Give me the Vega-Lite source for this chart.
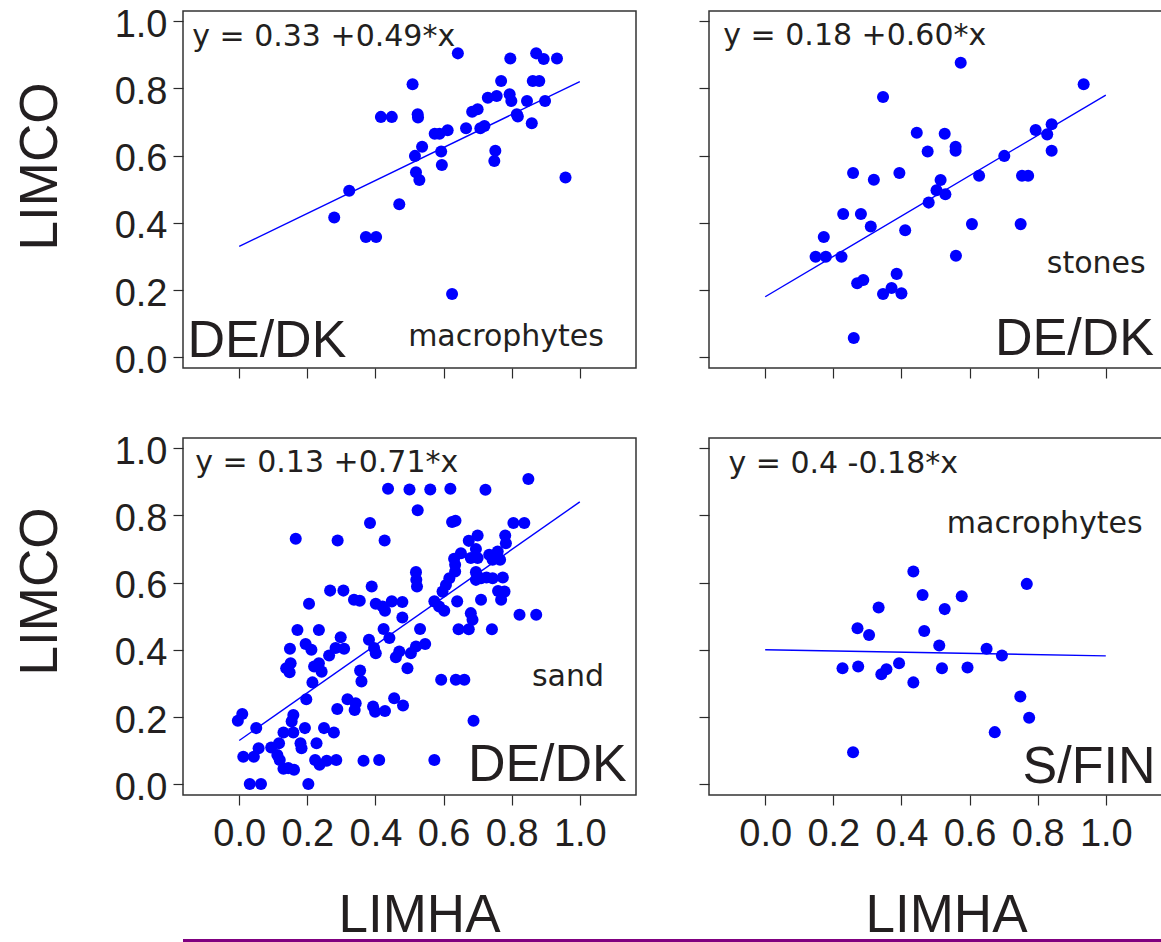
{
  "$schema": "https://vega.github.io/schema/vega-lite/v6.json",
  "background": "white",
  "padding": {"left": 13, "top": 5, "right": 0, "bottom": 0},
  "config": {
    "view": {"stroke": "#333333", "strokeWidth": 1.5},
    "axis": {
      "domain": false,
      "grid": false,
      "ticks": true,
      "tickSize": 10,
      "tickColor": "#2b2b2b",
      "tickWidth": 1.2,
      "labelFont": "Liberation Sans",
      "labelFontSize": 38,
      "labelColor": "#231f20",
      "titleFont": "Liberation Sans",
      "titleFontSize": 53,
      "titleFontWeight": "normal",
      "titleColor": "#231f20",
      "labelFlush": false,
      "labelOverlap": false,
      "labelBound": false
    }
  },
  "datasets": {
    "de_dk_macrophytes": [
      {"LIMHA": 0.642, "LIMCO": 0.904}, {"LIMHA": 0.796, "LIMCO": 0.889}, {"LIMHA": 0.872, "LIMCO": 0.904},
      {"LIMHA": 0.894, "LIMCO": 0.887}, {"LIMHA": 0.933, "LIMCO": 0.889}, {"LIMHA": 0.509, "LIMCO": 0.812},
      {"LIMHA": 0.769, "LIMCO": 0.822}, {"LIMHA": 0.862, "LIMCO": 0.822}, {"LIMHA": 0.881, "LIMCO": 0.822},
      {"LIMHA": 0.730, "LIMCO": 0.772}, {"LIMHA": 0.756, "LIMCO": 0.777}, {"LIMHA": 0.794, "LIMCO": 0.782},
      {"LIMHA": 0.799, "LIMCO": 0.762}, {"LIMHA": 0.845, "LIMCO": 0.762}, {"LIMHA": 0.898, "LIMCO": 0.762},
      {"LIMHA": 0.416, "LIMCO": 0.715}, {"LIMHA": 0.448, "LIMCO": 0.715}, {"LIMHA": 0.524, "LIMCO": 0.723},
      {"LIMHA": 0.525, "LIMCO": 0.713}, {"LIMHA": 0.684, "LIMCO": 0.730}, {"LIMHA": 0.700, "LIMCO": 0.738},
      {"LIMHA": 0.815, "LIMCO": 0.723}, {"LIMHA": 0.818, "LIMCO": 0.716}, {"LIMHA": 0.859, "LIMCO": 0.696},
      {"LIMHA": 0.574, "LIMCO": 0.665}, {"LIMHA": 0.588, "LIMCO": 0.665}, {"LIMHA": 0.612, "LIMCO": 0.675},
      {"LIMHA": 0.666, "LIMCO": 0.681}, {"LIMHA": 0.708, "LIMCO": 0.681}, {"LIMHA": 0.720, "LIMCO": 0.688},
      {"LIMHA": 0.537, "LIMCO": 0.626}, {"LIMHA": 0.516, "LIMCO": 0.599}, {"LIMHA": 0.593, "LIMCO": 0.612},
      {"LIMHA": 0.752, "LIMCO": 0.614}, {"LIMHA": 0.749, "LIMCO": 0.584}, {"LIMHA": 0.595, "LIMCO": 0.572},
      {"LIMHA": 0.519, "LIMCO": 0.550}, {"LIMHA": 0.529, "LIMCO": 0.527}, {"LIMHA": 0.958, "LIMCO": 0.535},
      {"LIMHA": 0.323, "LIMCO": 0.495}, {"LIMHA": 0.470, "LIMCO": 0.455}, {"LIMHA": 0.279, "LIMCO": 0.416},
      {"LIMHA": 0.372, "LIMCO": 0.358}, {"LIMHA": 0.402, "LIMCO": 0.358}, {"LIMHA": 0.625, "LIMCO": 0.188}
    ],
    "de_dk_stones": [
      {"LIMHA": 0.574, "LIMCO": 0.876}, {"LIMHA": 0.935, "LIMCO": 0.812}, {"LIMHA": 0.346, "LIMCO": 0.774},
      {"LIMHA": 0.445, "LIMCO": 0.668}, {"LIMHA": 0.527, "LIMCO": 0.665}, {"LIMHA": 0.559, "LIMCO": 0.626},
      {"LIMHA": 0.559, "LIMCO": 0.614}, {"LIMHA": 0.477, "LIMCO": 0.612}, {"LIMHA": 0.794, "LIMCO": 0.676},
      {"LIMHA": 0.841, "LIMCO": 0.693}, {"LIMHA": 0.828, "LIMCO": 0.663}, {"LIMHA": 0.841, "LIMCO": 0.614},
      {"LIMHA": 0.702, "LIMCO": 0.599}, {"LIMHA": 0.258, "LIMCO": 0.548}, {"LIMHA": 0.319, "LIMCO": 0.528},
      {"LIMHA": 0.394, "LIMCO": 0.548}, {"LIMHA": 0.628, "LIMCO": 0.540}, {"LIMHA": 0.754, "LIMCO": 0.540},
      {"LIMHA": 0.772, "LIMCO": 0.540}, {"LIMHA": 0.515, "LIMCO": 0.527}, {"LIMHA": 0.503, "LIMCO": 0.497},
      {"LIMHA": 0.529, "LIMCO": 0.485}, {"LIMHA": 0.480, "LIMCO": 0.460}, {"LIMHA": 0.229, "LIMCO": 0.426},
      {"LIMHA": 0.281, "LIMCO": 0.426}, {"LIMHA": 0.310, "LIMCO": 0.389}, {"LIMHA": 0.411, "LIMCO": 0.378},
      {"LIMHA": 0.607, "LIMCO": 0.396}, {"LIMHA": 0.750, "LIMCO": 0.396}, {"LIMHA": 0.172, "LIMCO": 0.358},
      {"LIMHA": 0.148, "LIMCO": 0.299}, {"LIMHA": 0.178, "LIMCO": 0.299}, {"LIMHA": 0.224, "LIMCO": 0.299},
      {"LIMHA": 0.560, "LIMCO": 0.302}, {"LIMHA": 0.386, "LIMCO": 0.248}, {"LIMHA": 0.270, "LIMCO": 0.220},
      {"LIMHA": 0.288, "LIMCO": 0.230}, {"LIMHA": 0.346, "LIMCO": 0.188}, {"LIMHA": 0.371, "LIMCO": 0.206},
      {"LIMHA": 0.400, "LIMCO": 0.190}, {"LIMHA": 0.260, "LIMCO": 0.057}
    ],
    "de_dk_sand": [
      {"LIMHA": 0.849, "LIMCO": 0.908}, {"LIMHA": 0.437, "LIMCO": 0.879}, {"LIMHA": 0.500, "LIMCO": 0.877},
      {"LIMHA": 0.561, "LIMCO": 0.877}, {"LIMHA": 0.620, "LIMCO": 0.879}, {"LIMHA": 0.723, "LIMCO": 0.876},
      {"LIMHA": 0.524, "LIMCO": 0.815}, {"LIMHA": 0.384, "LIMCO": 0.777}, {"LIMHA": 0.625, "LIMCO": 0.780},
      {"LIMHA": 0.635, "LIMCO": 0.784}, {"LIMHA": 0.805, "LIMCO": 0.777}, {"LIMHA": 0.837, "LIMCO": 0.777},
      {"LIMHA": 0.166, "LIMCO": 0.730}, {"LIMHA": 0.289, "LIMCO": 0.725}, {"LIMHA": 0.427, "LIMCO": 0.725},
      {"LIMHA": 0.674, "LIMCO": 0.724}, {"LIMHA": 0.700, "LIMCO": 0.740}, {"LIMHA": 0.781, "LIMCO": 0.740},
      {"LIMHA": 0.783, "LIMCO": 0.717}, {"LIMHA": 0.695, "LIMCO": 0.700}, {"LIMHA": 0.651, "LIMCO": 0.687},
      {"LIMHA": 0.631, "LIMCO": 0.671}, {"LIMHA": 0.680, "LIMCO": 0.673}, {"LIMHA": 0.700, "LIMCO": 0.673},
      {"LIMHA": 0.734, "LIMCO": 0.683}, {"LIMHA": 0.759, "LIMCO": 0.692}, {"LIMHA": 0.766, "LIMCO": 0.668},
      {"LIMHA": 0.744, "LIMCO": 0.668}, {"LIMHA": 0.634, "LIMCO": 0.653}, {"LIMHA": 0.519, "LIMCO": 0.631},
      {"LIMHA": 0.520, "LIMCO": 0.608}, {"LIMHA": 0.522, "LIMCO": 0.588}, {"LIMHA": 0.634, "LIMCO": 0.633},
      {"LIMHA": 0.617, "LIMCO": 0.613}, {"LIMHA": 0.607, "LIMCO": 0.593}, {"LIMHA": 0.695, "LIMCO": 0.631},
      {"LIMHA": 0.710, "LIMCO": 0.613}, {"LIMHA": 0.726, "LIMCO": 0.615}, {"LIMHA": 0.744, "LIMCO": 0.613},
      {"LIMHA": 0.774, "LIMCO": 0.615}, {"LIMHA": 0.695, "LIMCO": 0.608}, {"LIMHA": 0.389, "LIMCO": 0.588},
      {"LIMHA": 0.267, "LIMCO": 0.576}, {"LIMHA": 0.306, "LIMCO": 0.576}, {"LIMHA": 0.597, "LIMCO": 0.573},
      {"LIMHA": 0.760, "LIMCO": 0.575}, {"LIMHA": 0.779, "LIMCO": 0.573}, {"LIMHA": 0.769, "LIMCO": 0.549},
      {"LIMHA": 0.337, "LIMCO": 0.549}, {"LIMHA": 0.354, "LIMCO": 0.546}, {"LIMHA": 0.205, "LIMCO": 0.537},
      {"LIMHA": 0.401, "LIMCO": 0.537}, {"LIMHA": 0.421, "LIMCO": 0.529}, {"LIMHA": 0.448, "LIMCO": 0.544},
      {"LIMHA": 0.479, "LIMCO": 0.542}, {"LIMHA": 0.428, "LIMCO": 0.516}, {"LIMHA": 0.573, "LIMCO": 0.544},
      {"LIMHA": 0.587, "LIMCO": 0.529}, {"LIMHA": 0.602, "LIMCO": 0.516}, {"LIMHA": 0.640, "LIMCO": 0.544},
      {"LIMHA": 0.710, "LIMCO": 0.549}, {"LIMHA": 0.823, "LIMCO": 0.504}, {"LIMHA": 0.872, "LIMCO": 0.504},
      {"LIMHA": 0.479, "LIMCO": 0.496}, {"LIMHA": 0.680, "LIMCO": 0.509}, {"LIMHA": 0.685, "LIMCO": 0.489},
      {"LIMHA": 0.644, "LIMCO": 0.461}, {"LIMHA": 0.674, "LIMCO": 0.461}, {"LIMHA": 0.742, "LIMCO": 0.461},
      {"LIMHA": 0.171, "LIMCO": 0.459}, {"LIMHA": 0.234, "LIMCO": 0.459}, {"LIMHA": 0.424, "LIMCO": 0.462},
      {"LIMHA": 0.441, "LIMCO": 0.435}, {"LIMHA": 0.531, "LIMCO": 0.462}, {"LIMHA": 0.298, "LIMCO": 0.437},
      {"LIMHA": 0.381, "LIMCO": 0.430}, {"LIMHA": 0.195, "LIMCO": 0.417}, {"LIMHA": 0.212, "LIMCO": 0.400},
      {"LIMHA": 0.149, "LIMCO": 0.403}, {"LIMHA": 0.396, "LIMCO": 0.405}, {"LIMHA": 0.401, "LIMCO": 0.390},
      {"LIMHA": 0.283, "LIMCO": 0.405}, {"LIMHA": 0.308, "LIMCO": 0.403}, {"LIMHA": 0.264, "LIMCO": 0.383},
      {"LIMHA": 0.470, "LIMCO": 0.395}, {"LIMHA": 0.460, "LIMCO": 0.378}, {"LIMHA": 0.519, "LIMCO": 0.410},
      {"LIMHA": 0.546, "LIMCO": 0.417}, {"LIMHA": 0.504, "LIMCO": 0.390}, {"LIMHA": 0.151, "LIMCO": 0.360},
      {"LIMHA": 0.138, "LIMCO": 0.345}, {"LIMHA": 0.148, "LIMCO": 0.333}, {"LIMHA": 0.220, "LIMCO": 0.350},
      {"LIMHA": 0.234, "LIMCO": 0.360}, {"LIMHA": 0.242, "LIMCO": 0.335}, {"LIMHA": 0.494, "LIMCO": 0.345},
      {"LIMHA": 0.355, "LIMCO": 0.338}, {"LIMHA": 0.359, "LIMCO": 0.306}, {"LIMHA": 0.215, "LIMCO": 0.303},
      {"LIMHA": 0.593, "LIMCO": 0.311}, {"LIMHA": 0.636, "LIMCO": 0.311}, {"LIMHA": 0.661, "LIMCO": 0.311},
      {"LIMHA": 0.197, "LIMCO": 0.253}, {"LIMHA": 0.318, "LIMCO": 0.253}, {"LIMHA": 0.342, "LIMCO": 0.241},
      {"LIMHA": 0.288, "LIMCO": 0.224}, {"LIMHA": 0.339, "LIMCO": 0.221}, {"LIMHA": 0.393, "LIMCO": 0.231},
      {"LIMHA": 0.399, "LIMCO": 0.216}, {"LIMHA": 0.428, "LIMCO": 0.218}, {"LIMHA": 0.455, "LIMCO": 0.256},
      {"LIMHA": 0.481, "LIMCO": 0.234}, {"LIMHA": 0.009, "LIMCO": 0.209}, {"LIMHA": -0.004, "LIMCO": 0.189},
      {"LIMHA": 0.688, "LIMCO": 0.189}, {"LIMHA": 0.159, "LIMCO": 0.206}, {"LIMHA": 0.154, "LIMCO": 0.187},
      {"LIMHA": 0.050, "LIMCO": 0.167}, {"LIMHA": 0.193, "LIMCO": 0.167}, {"LIMHA": 0.249, "LIMCO": 0.167},
      {"LIMHA": 0.278, "LIMCO": 0.154}, {"LIMHA": 0.130, "LIMCO": 0.154}, {"LIMHA": 0.159, "LIMCO": 0.154},
      {"LIMHA": 0.057, "LIMCO": 0.107}, {"LIMHA": 0.094, "LIMCO": 0.109}, {"LIMHA": 0.117, "LIMCO": 0.122},
      {"LIMHA": 0.180, "LIMCO": 0.122}, {"LIMHA": 0.183, "LIMCO": 0.107}, {"LIMHA": 0.227, "LIMCO": 0.122},
      {"LIMHA": 0.012, "LIMCO": 0.082}, {"LIMHA": 0.043, "LIMCO": 0.082}, {"LIMHA": 0.112, "LIMCO": 0.087},
      {"LIMHA": 0.119, "LIMCO": 0.072}, {"LIMHA": 0.130, "LIMCO": 0.046}, {"LIMHA": 0.144, "LIMCO": 0.048},
      {"LIMHA": 0.161, "LIMCO": 0.043}, {"LIMHA": 0.223, "LIMCO": 0.072}, {"LIMHA": 0.236, "LIMCO": 0.058},
      {"LIMHA": 0.257, "LIMCO": 0.070}, {"LIMHA": 0.285, "LIMCO": 0.072}, {"LIMHA": 0.365, "LIMCO": 0.070},
      {"LIMHA": 0.411, "LIMCO": 0.072}, {"LIMHA": 0.573, "LIMCO": 0.072}, {"LIMHA": 0.031, "LIMCO": 0.001},
      {"LIMHA": 0.064, "LIMCO": 0.001}, {"LIMHA": 0.203, "LIMCO": 0.001}
    ],
    "s_fin_macrophytes": [
      {"LIMHA": 0.435, "LIMCO": 0.633}, {"LIMHA": 0.768, "LIMCO": 0.596}, {"LIMHA": 0.462, "LIMCO": 0.563},
      {"LIMHA": 0.577, "LIMCO": 0.559}, {"LIMHA": 0.333, "LIMCO": 0.526}, {"LIMHA": 0.527, "LIMCO": 0.521},
      {"LIMHA": 0.271, "LIMCO": 0.464}, {"LIMHA": 0.305, "LIMCO": 0.444}, {"LIMHA": 0.467, "LIMCO": 0.456},
      {"LIMHA": 0.511, "LIMCO": 0.413}, {"LIMHA": 0.650, "LIMCO": 0.403}, {"LIMHA": 0.695, "LIMCO": 0.383},
      {"LIMHA": 0.227, "LIMCO": 0.345}, {"LIMHA": 0.273, "LIMCO": 0.350}, {"LIMHA": 0.393, "LIMCO": 0.360},
      {"LIMHA": 0.356, "LIMCO": 0.342}, {"LIMHA": 0.341, "LIMCO": 0.327}, {"LIMHA": 0.519, "LIMCO": 0.345},
      {"LIMHA": 0.594, "LIMCO": 0.347}, {"LIMHA": 0.435, "LIMCO": 0.303}, {"LIMHA": 0.749, "LIMCO": 0.261},
      {"LIMHA": 0.775, "LIMCO": 0.198}, {"LIMHA": 0.674, "LIMCO": 0.155}, {"LIMHA": 0.258, "LIMCO": 0.095}
    ],
    "fit_de_dk_macrophytes": [{"LIMHA": 0, "LIMCO": 0.33}, {"LIMHA": 1, "LIMCO": 0.82}],
    "fit_de_dk_stones": [{"LIMHA": 0, "LIMCO": 0.18}, {"LIMHA": 1, "LIMCO": 0.78}],
    "fit_de_dk_sand": [{"LIMHA": 0, "LIMCO": 0.13}, {"LIMHA": 1, "LIMCO": 0.84}],
    "fit_s_fin_macrophytes": [{"LIMHA": 0, "LIMCO": 0.40}, {"LIMHA": 1, "LIMCO": 0.382}]
  },
  "columns": 1,
  "align": "none",
  "spacing": 35,
  "concat": [
    {
      "columns": 2,
      "spacing": {"row": 51, "column": 60},
      "concat": [
        {
          "width": 453,
          "height": 357,
          "layer": [
            {
              "data": {"name": "de_dk_macrophytes"},
              "mark": {"type": "circle", "size": 145, "color": "#0000ff", "opacity": 1},
              "encoding": {
                "x": {"field": "LIMHA", "type": "quantitative",
                      "scale": {"domain": [-0.165, 1.165], "nice": false, "zero": false},
                      "axis": {"title": null, "labels": false, "values": [0, 0.2, 0.4, 0.6, 0.8, 1]}},
                "y": {"field": "LIMCO", "type": "quantitative",
                      "scale": {"domain": [-0.032, 1.03], "nice": false, "zero": false},
                      "axis": {"title": "LIMCO", "values": [0, 0.2, 0.4, 0.6, 0.8, 1], "format": ".1f",
                               "labelPadding": 6, "labelOffset": 4,
                               "titleX": -127, "titleY": 155, "titleAngle": 270,
                               "titleAlign": "center", "titleBaseline": "alphabetic"}}
              }
            },
            {
              "data": {"name": "fit_de_dk_macrophytes"},
              "mark": {"type": "line", "color": "#0000ff", "strokeWidth": 1.4},
              "encoding": {"x": {"field": "LIMHA", "type": "quantitative"}, "y": {"field": "LIMCO", "type": "quantitative"}}
            },
            {
              "data": {"values": [{"label": "y = 0.33 +0.49*x"}]},
              "mark": {"type": "text", "align": "left", "baseline": "alphabetic", "font": "DejaVu Sans", "fontSize": 30, "color": "#231f20"},
              "encoding": {"text": {"field": "label"}, "x": {"datum": -0.138, "type": "quantitative"}, "y": {"datum": 0.926, "type": "quantitative"}}
            },
            {
              "data": {"values": [{"label": "DE/DK"}]},
              "mark": {"type": "text", "align": "left", "baseline": "alphabetic", "font": "Liberation Sans", "fontSize": 52, "color": "#231f20"},
              "encoding": {"text": {"field": "label"}, "x": {"datum": -0.152, "type": "quantitative"}, "y": {"datum": 0.0, "type": "quantitative"}}
            },
            {
              "data": {"values": [{"label": "macrophytes"}]},
              "mark": {"type": "text", "align": "left", "baseline": "alphabetic", "font": "DejaVu Sans", "fontSize": 30, "color": "#231f20"},
              "encoding": {"text": {"field": "label"}, "x": {"datum": 0.496, "type": "quantitative"}, "y": {"datum": 0.033, "type": "quantitative"}}
            }
          ]
        },
        {
          "width": 453,
          "height": 357,
          "layer": [
            {
              "data": {"name": "de_dk_stones"},
              "mark": {"type": "circle", "size": 145, "color": "#0000ff", "opacity": 1},
              "encoding": {
                "x": {"field": "LIMHA", "type": "quantitative",
                      "scale": {"domain": [-0.165, 1.165], "nice": false, "zero": false},
                      "axis": {"title": null, "labels": false, "values": [0, 0.2, 0.4, 0.6, 0.8, 1]}},
                "y": {"field": "LIMCO", "type": "quantitative",
                      "scale": {"domain": [-0.032, 1.03], "nice": false, "zero": false},
                      "axis": {"title": null, "labels": false, "values": [0, 0.2, 0.4, 0.6, 0.8, 1]}}
              }
            },
            {
              "data": {"name": "fit_de_dk_stones"},
              "mark": {"type": "line", "color": "#0000ff", "strokeWidth": 1.4},
              "encoding": {"x": {"field": "LIMHA", "type": "quantitative"}, "y": {"field": "LIMCO", "type": "quantitative"}}
            },
            {
              "data": {"values": [{"label": "y = 0.18 +0.60*x"}]},
              "mark": {"type": "text", "align": "left", "baseline": "alphabetic", "font": "DejaVu Sans", "fontSize": 30, "color": "#231f20"},
              "encoding": {"text": {"field": "label"}, "x": {"datum": -0.123, "type": "quantitative"}, "y": {"datum": 0.93, "type": "quantitative"}}
            },
            {
              "data": {"values": [{"label": "stones"}]},
              "mark": {"type": "text", "align": "right", "baseline": "alphabetic", "font": "DejaVu Sans", "fontSize": 30, "color": "#231f20"},
              "encoding": {"text": {"field": "label"}, "x": {"datum": 1.117, "type": "quantitative"}, "y": {"datum": 0.252, "type": "quantitative"}}
            },
            {
              "data": {"values": [{"label": "DE/DK"}]},
              "mark": {"type": "text", "align": "right", "baseline": "alphabetic", "font": "Liberation Sans", "fontSize": 52, "color": "#231f20"},
              "encoding": {"text": {"field": "label"}, "x": {"datum": 1.141, "type": "quantitative"}, "y": {"datum": 0.008, "type": "quantitative"}}
            }
          ]
        },
        {
          "width": 453,
          "height": 357,
          "layer": [
            {
              "data": {"name": "de_dk_sand"},
              "mark": {"type": "circle", "size": 145, "color": "#0000ff", "opacity": 1},
              "encoding": {
                "x": {"field": "LIMHA", "type": "quantitative",
                      "scale": {"domain": [-0.165, 1.165], "nice": false, "zero": false},
                      "axis": {"title": null, "values": [0, 0.2, 0.4, 0.6, 0.8, 1], "format": ".1f",
                               "labelPadding": 10,
                               "encode": {"labels": {"update": {"dx": {"signal": "31 * datum.value - 12"}}}}}},
                "y": {"field": "LIMCO", "type": "quantitative",
                      "scale": {"domain": [-0.032, 1.03], "nice": false, "zero": false},
                      "axis": {"title": "LIMCO", "values": [0, 0.2, 0.4, 0.6, 0.8, 1], "format": ".1f",
                               "labelPadding": 6, "labelOffset": 4,
                               "titleX": -127, "titleY": 153, "titleAngle": 270,
                               "titleAlign": "center", "titleBaseline": "alphabetic"}}
              }
            },
            {
              "data": {"name": "fit_de_dk_sand"},
              "mark": {"type": "line", "color": "#0000ff", "strokeWidth": 1.4},
              "encoding": {"x": {"field": "LIMHA", "type": "quantitative"}, "y": {"field": "LIMCO", "type": "quantitative"}}
            },
            {
              "data": {"values": [{"label": "y = 0.13 +0.71*x"}]},
              "mark": {"type": "text", "align": "left", "baseline": "alphabetic", "font": "DejaVu Sans", "fontSize": 30, "color": "#231f20"},
              "encoding": {"text": {"field": "label"}, "x": {"datum": -0.129, "type": "quantitative"}, "y": {"datum": 0.929, "type": "quantitative"}}
            },
            {
              "data": {"values": [{"label": "sand"}]},
              "mark": {"type": "text", "align": "right", "baseline": "alphabetic", "font": "DejaVu Sans", "fontSize": 30, "color": "#231f20"},
              "encoding": {"text": {"field": "label"}, "x": {"datum": 1.071, "type": "quantitative"}, "y": {"datum": 0.292, "type": "quantitative"}}
            },
            {
              "data": {"values": [{"label": "DE/DK"}]},
              "mark": {"type": "text", "align": "right", "baseline": "alphabetic", "font": "Liberation Sans", "fontSize": 52, "color": "#231f20"},
              "encoding": {"text": {"field": "label"}, "x": {"datum": 1.138, "type": "quantitative"}, "y": {"datum": 0.009, "type": "quantitative"}}
            }
          ]
        },
        {
          "width": 453,
          "height": 357,
          "layer": [
            {
              "data": {"name": "s_fin_macrophytes"},
              "mark": {"type": "circle", "size": 145, "color": "#0000ff", "opacity": 1},
              "encoding": {
                "x": {"field": "LIMHA", "type": "quantitative",
                      "scale": {"domain": [-0.165, 1.165], "nice": false, "zero": false},
                      "axis": {"title": null, "values": [0, 0.2, 0.4, 0.6, 0.8, 1], "format": ".1f",
                               "labelPadding": 10,
                               "encode": {"labels": {"update": {"dx": {"signal": "31 * datum.value - 12"}}}}}},
                "y": {"field": "LIMCO", "type": "quantitative",
                      "scale": {"domain": [-0.032, 1.03], "nice": false, "zero": false},
                      "axis": {"title": null, "labels": false, "values": [0, 0.2, 0.4, 0.6, 0.8, 1]}}
              }
            },
            {
              "data": {"name": "fit_s_fin_macrophytes"},
              "mark": {"type": "line", "color": "#0000ff", "strokeWidth": 1.4},
              "encoding": {"x": {"field": "LIMHA", "type": "quantitative"}, "y": {"field": "LIMCO", "type": "quantitative"}}
            },
            {
              "data": {"values": [{"label": "y = 0.4 -0.18*x"}]},
              "mark": {"type": "text", "align": "left", "baseline": "alphabetic", "font": "DejaVu Sans", "fontSize": 30, "color": "#231f20"},
              "encoding": {"text": {"field": "label"}, "x": {"datum": -0.108, "type": "quantitative"}, "y": {"datum": 0.927, "type": "quantitative"}}
            },
            {
              "data": {"values": [{"label": "macrophytes"}]},
              "mark": {"type": "text", "align": "right", "baseline": "alphabetic", "font": "DejaVu Sans", "fontSize": 30, "color": "#231f20"},
              "encoding": {"text": {"field": "label"}, "x": {"datum": 1.108, "type": "quantitative"}, "y": {"datum": 0.747, "type": "quantitative"}}
            },
            {
              "data": {"values": [{"label": "S/FIN"}]},
              "mark": {"type": "text", "align": "right", "baseline": "alphabetic", "font": "Liberation Sans", "fontSize": 52, "color": "#231f20"},
              "encoding": {"text": {"field": "label"}, "x": {"datum": 1.146, "type": "quantitative"}, "y": {"datum": 0.003, "type": "quantitative"}}
            }
          ]
        }
      ]
    },
    {
      "spacing": 0,
      "hconcat": [
        {
          "width": 524,
          "height": 3,
          "data": {"values": []},
          "mark": {"type": "point"},
          "encoding": {
            "x": {"field": "LIMHA", "type": "quantitative", "scale": {"domain": [0, 1]},
                  "axis": {"orient": "top", "title": "LIMHA", "labels": false, "ticks": false, "domain": false,
                           "titleX": 236, "titleY": -8, "titleAlign": "center", "titleBaseline": "alphabetic"}}
          },
          "view": {"fill": "#800080", "stroke": null}
        },
        {
          "width": 455,
          "height": 3,
          "data": {"values": []},
          "mark": {"type": "point"},
          "encoding": {
            "x": {"field": "LIMHA", "type": "quantitative", "scale": {"domain": [0, 1]},
                  "axis": {"orient": "top", "title": "LIMHA", "labels": false, "ticks": false, "domain": false,
                           "titleX": 239, "titleY": -8, "titleAlign": "center", "titleBaseline": "alphabetic"}}
          },
          "view": {"fill": "#800080", "stroke": null}
        }
      ]
    }
  ]
}
